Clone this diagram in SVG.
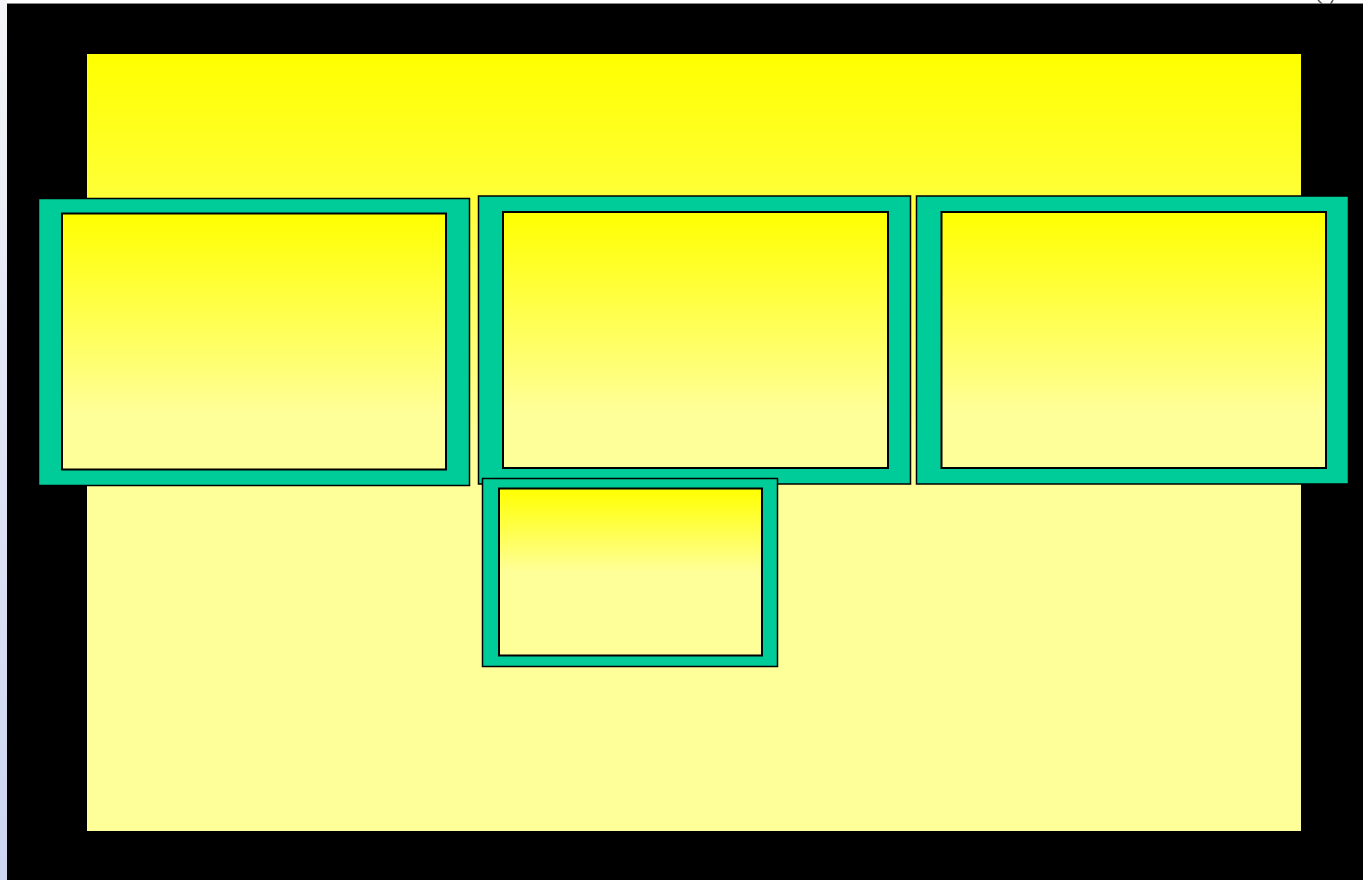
<svg xmlns="http://www.w3.org/2000/svg" width="1363" height="880" viewBox="0 0 1363 880">
  <defs>
    <linearGradient id="bgGrad" x1="0" y1="0" x2="0" y2="1">
      <stop offset="0" stop-color="#ffff00"/>
      <stop offset="0.5" stop-color="#ffff99"/>
      <stop offset="1" stop-color="#ffff99"/>
    </linearGradient>
    <linearGradient id="panelGrad" x1="0" y1="0" x2="0" y2="1">
      <stop offset="0" stop-color="#ffff00"/>
      <stop offset="0.78" stop-color="#ffff99"/>
      <stop offset="1" stop-color="#ffff99"/>
    </linearGradient>
    <linearGradient id="smallGrad" x1="0" y1="0" x2="0" y2="1">
      <stop offset="0" stop-color="#ffff00"/>
      <stop offset="0.5" stop-color="#ffff99"/>
      <stop offset="1" stop-color="#ffff99"/>
    </linearGradient>
    <linearGradient id="sideGrad" x1="0" y1="0" x2="0" y2="1">
      <stop offset="0" stop-color="#f4f4f8"/>
      <stop offset="1" stop-color="#ccd4f2"/>
    </linearGradient>
  </defs>
  <style>
    .frame { fill: #00cc99; stroke: #000000; stroke-width: 1.5; }
    .inner { stroke: #000000; stroke-width: 2; }
  </style>

  <g id="background">
    <rect x="0" y="0" width="1363" height="880" fill="#ffffff"/>
    <rect x="0" y="0" width="7" height="880" fill="url(#sideGrad)"/>
    <line x1="7" y1="3.5" x2="1363" y2="3.5" stroke="#888888" stroke-width="1"/>
    <path d="M1318 0 L1322 4 M1333 0 L1330 5" stroke="#555555" stroke-width="1.5" fill="none"/>
    <rect x="7" y="4" width="1356" height="876" fill="#000000"/>
    <rect x="87" y="54" width="1214" height="777" fill="url(#bgGrad)"/>
  </g>

  <g id="panel1">
    <rect class="frame" x="38.5" y="198.5" width="431" height="287"/>
    <rect class="inner" x="62" y="213.5" width="384" height="256" fill="url(#panelGrad)"/>
  </g>

  <g id="panel2">
    <rect class="frame" x="478.5" y="196" width="432" height="288"/>
    <rect class="inner" x="503" y="212" width="385" height="256" fill="url(#panelGrad)"/>
  </g>

  <g id="panel3">
    <rect class="frame" x="916.5" y="196" width="432" height="288"/>
    <rect class="inner" x="941.5" y="212" width="384.5" height="256" fill="url(#panelGrad)"/>
  </g>

  <g id="panel4">
    <rect class="frame" x="482.5" y="478.5" width="295" height="188"/>
    <rect class="inner" x="499" y="488.5" width="263" height="167" fill="url(#smallGrad)"/>
  </g>

  <g id="connectors"></g>
</svg>
